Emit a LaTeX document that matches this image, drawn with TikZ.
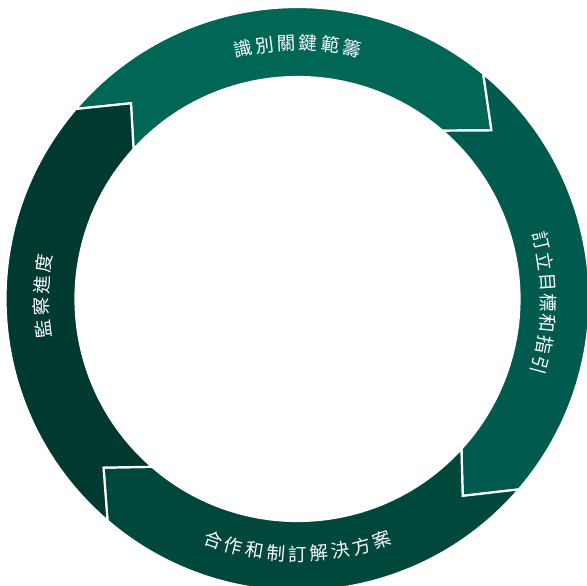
\documentclass[tikz,border=0pt]{standalone}
\usepackage{fontspec}
\newfontfamily\cjkfont{Noto Sans CJK TC}
\definecolor{segtop}{RGB}{0,103,87}
\definecolor{segright}{RGB}{0,90,78}
\definecolor{segbottom}{RGB}{0,71,60}
\definecolor{segleft}{RGB}{0,57,48}
\begin{document}
\begin{tikzpicture}[x=1pt,y=1pt,
  seg/.style={draw=white,line width=2.2pt,line join=miter},
  ch/.style={text=white,font=\cjkfont\fontsize{18.5}{18.5}\selectfont,inner sep=0pt}]
\useasboundingbox (0,0) rectangle (587,586);
\clip (0,0) rectangle (587,586);
\begin{scope}[shift={(297.5,287)}]
\def\ro{292}\def\ri{222}\def\rm{257}
% top segment
\filldraw[seg,fill=segtop] (139.4:\ro) arc[start angle=139.4,end angle=50.5,radius=\ro]
  -- (41.0:\rm) -- (49.3:\ri) arc[start angle=49.3,end angle=137.6,radius=\ri]
  -- (130.4:\rm) -- cycle;
% right segment
\filldraw[seg,fill=segright] (50.5:\ro) arc[start angle=50.5,end angle=-40.7,radius=\ro]
  -- (-50.0:\rm) -- (-42.4:\ri) arc[start angle=-42.4,end angle=49.3,radius=\ri]
  -- (41.0:\rm) -- cycle;
% bottom segment
\filldraw[seg,fill=segbottom] (-40.7:\ro) arc[start angle=-40.7,end angle=-130.6,radius=\ro]
  -- (-139.0:\rm) -- (-130.9:\ri) arc[start angle=-130.9,end angle=-42.4,radius=\ri]
  -- (-50.0:\rm) -- cycle;
% left segment
\filldraw[seg,fill=segleft] (229.4:\ro) arc[start angle=229.4,end angle=139.4,radius=\ro]
  -- (130.4:\rm) -- (137.6:\ri) arc[start angle=137.6,end angle=229.1,radius=\ri]
  -- (221.0:\rm) -- cycle;
% labels
\foreach \c [count=\i from 0] in {識,別,關,鍵,範,籌} {
  \pgfmathsetmacro\a{90+(2.5-\i)*4.94}
  \node[ch,rotate=\a-90] (top\i) at (\a:256) {\c};
}
\foreach \c [count=\i from 0] in {訂,立,目,標,和,指,引} {
  \pgfmathsetmacro\a{-0.9+(3-\i)*4.79}
  \node[ch,rotate=\a-90] (right\i) at (\a:251) {\c};
}
\foreach \c [count=\i from 0] in {合,作,和,制,訂,解,決,方,案} {
  \pgfmathsetmacro\a{-90+(\i-4)*4.83}
  \node[ch,rotate=\a+90] (bottom\i) at (\a:255) {\c};
}
\foreach \c [count=\i from 0] in {監,察,進,度} {
  \pgfmathsetmacro\a{179.3+(1.5-\i)*4.92}
  \node[ch,rotate=\a-90] (left\i) at (\a:256) {\c};
}
\end{scope}
\end{tikzpicture}
\end{document}
